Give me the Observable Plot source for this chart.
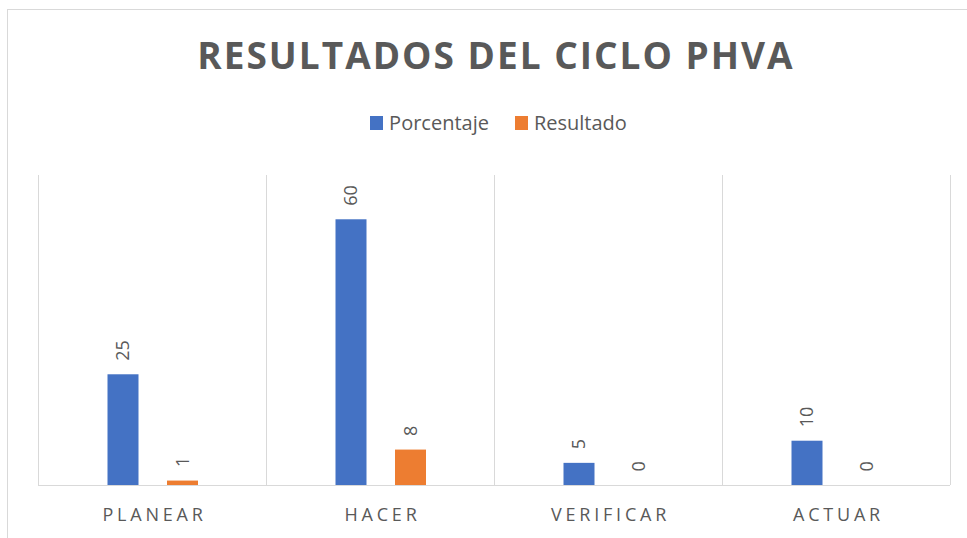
<!DOCTYPE html>
<html><head><meta charset="utf-8">
<script src="https://cdn.jsdelivr.net/npm/d3@7"></script>
<script src="https://cdn.jsdelivr.net/npm/@observablehq/plot@0.6"></script>
<style>
body{margin:0;background:#fff;overflow:hidden;font-family:"Open Sans",sans-serif;}
#wrap{position:relative;width:967px;height:538px;overflow:hidden;}
#border{position:absolute;left:7px;top:9px;width:1200px;height:1000px;border:1px solid #d9d9d9;box-sizing:border-box;}
#title{position:absolute;left:0;top:36px;width:992px;text-align:center;font-weight:700;font-size:37px;line-height:1;letter-spacing:2px;color:#595959;white-space:nowrap;}
#legend{position:absolute;left:0;top:113px;width:997px;text-align:center;font-size:20px;line-height:1;color:#595959;white-space:nowrap;}
.item{display:inline-block;margin:0 13px;}
.sw{display:inline-block;width:13px;height:14px;margin-right:6px;vertical-align:baseline;}
#chart{position:absolute;left:0;top:160px;}
</style>
</head>
<body>
<div id="wrap">
  <div id="border"></div>
  <div id="title"></div>
  <div id="legend"></div>
  <div id="chart"></div>
</div>
<script>
const title = "RESULTADOS DEL CICLO PHVA";
const categories = ["PLANEAR", "HACER", "VERIFICAR", "ACTUAR"];
const series = ["Porcentaje", "Resultado"];
const porcentaje = [25, 60, 5, 10];
const resultado = [1, 8, 0, 0];
const colors = ["#4472C4", "#ED7D31"];
const yMax = 70;

document.getElementById("title").textContent = title;
const legend = document.getElementById("legend");
series.forEach((s, k) => {
  const item = document.createElement("span");
  item.className = "item";
  const sw = document.createElement("span");
  sw.className = "sw";
  sw.style.background = colors[k];
  item.appendChild(sw);
  item.appendChild(document.createTextNode(s));
  legend.appendChild(item);
});

const rows = categories.map((c, i) => ({cat: c, i, porcentaje: porcentaje[i], resultado: resultado[i]}));
const inset = 98.5;
const offs = [-29, 30.5];
const keys = ["porcentaje", "resultado"];

const marks = [
  Plot.ruleX(d3.range(categories.length + 1), {stroke: "#d9d9d9"})
];
keys.forEach((k, s) => {
  marks.push(Plot.rectY(rows, {x1: "i", x2: d => d.i + 1, y1: d => 0, y2: k, fill: colors[s], insetLeft: inset, insetRight: inset, dx: offs[s]}));
});
marks.push(Plot.ruleY([0], {stroke: "#d9d9d9"}));
keys.forEach((k, s) => {
  marks.push(Plot.text(rows, {x: d => d.i + 0.5, y: k, text: d => String(d[k]), rotate: -90, textAnchor: "start", lineAnchor: "middle", dx: offs[s], dy: -14, fontSize: 18, fill: "#595959"}));
});
marks.push(Plot.text(rows, {x: d => d.i + 0.5, y: d => 0, text: "cat", lineAnchor: "bottom", dy: 35, dx: 2, fontSize: 18, fill: "#595959"}));

const chart = Plot.plot({
  width: 967,
  height: 378,
  marginTop: 15,
  marginBottom: 53,
  marginLeft: 38,
  marginRight: 17,
  x: {domain: [0, categories.length], axis: null},
  y: {domain: [0, yMax], axis: null},
  style: {fontFamily: '"Open Sans", sans-serif', background: "transparent", overflow: "visible"},
  marks
});
d3.select(chart).selectAll("text")
  .filter(function() { return categories.includes(this.textContent); })
  .style("letter-spacing", "3.8px");
document.getElementById("chart").appendChild(chart);
</script>
</body></html>
